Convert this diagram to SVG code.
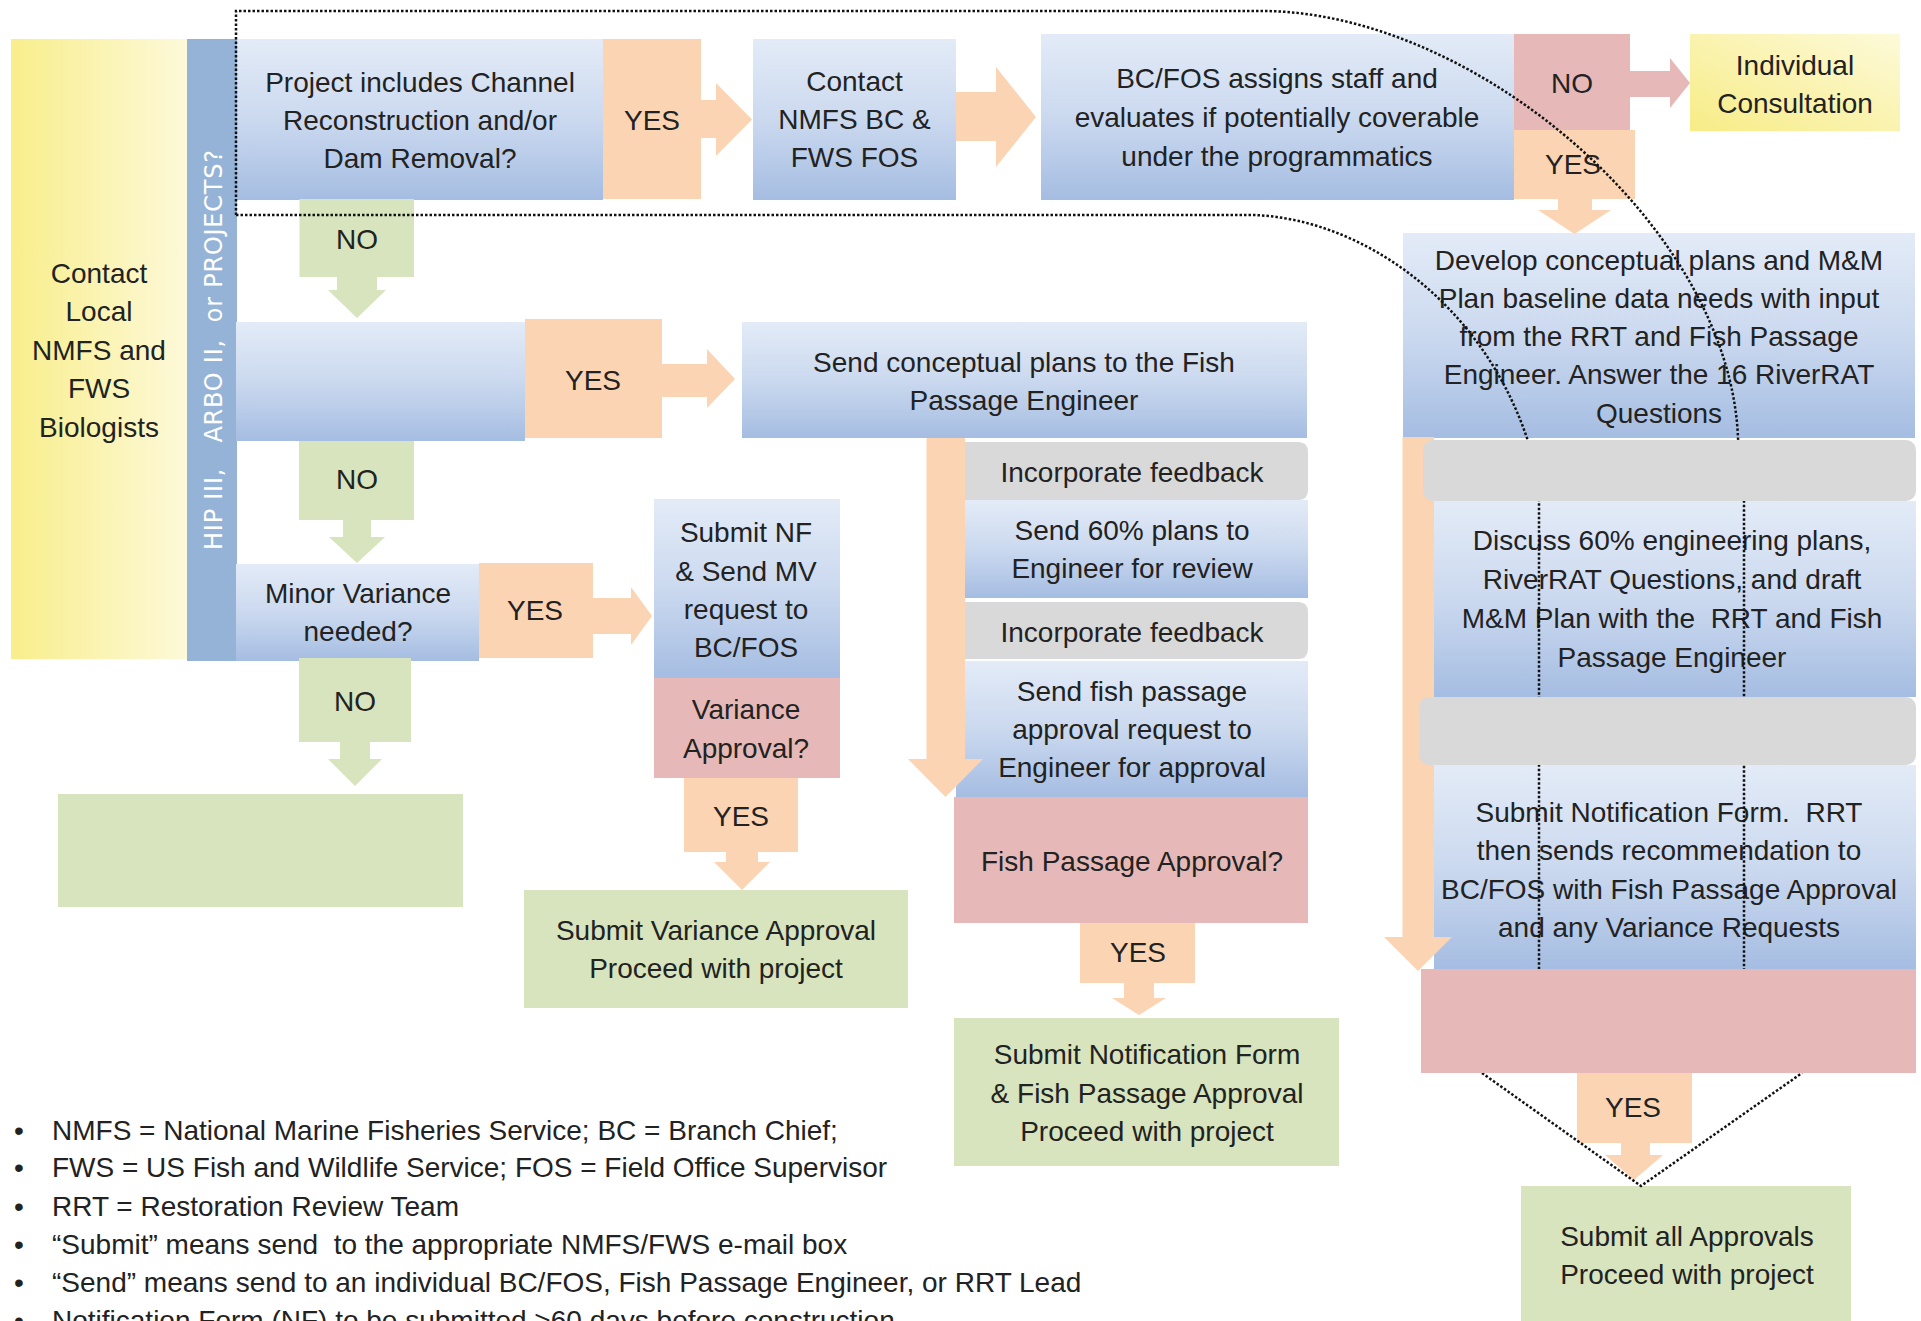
<svg xmlns="http://www.w3.org/2000/svg" width="1921" height="1321" viewBox="0 0 1921 1321">
<defs>
<linearGradient id="gBlue" x1="0" y1="0" x2="0" y2="1">
<stop offset="0" stop-color="#e3ebf7"/><stop offset="0.5" stop-color="#cbd9ef"/><stop offset="1" stop-color="#a5bde2"/>
</linearGradient>
<linearGradient id="gYellow" x1="0" y1="0" x2="1" y2="0">
<stop offset="0" stop-color="#f8ee8c"/><stop offset="1" stop-color="#fdf9d9"/>
</linearGradient>
<linearGradient id="gYellow2" x1="0" y1="1" x2="1" y2="0">
<stop offset="0" stop-color="#f7ec86"/><stop offset="1" stop-color="#fdfad9"/>
</linearGradient>
<style>
.blue{fill:url(#gBlue)}
.org{fill:#fbd4b4}
.grn{fill:#d7e4bd}
.red{fill:#e6b9b8}
.gry{fill:#d9d9d9}
.t{font-family:"Liberation Sans",Arial,sans-serif;font-size:28px;fill:#222;text-anchor:middle;dominant-baseline:central}
.lg{font-family:"Liberation Sans",Arial,sans-serif;font-size:28px;fill:#222}
.bar{font-family:"DejaVu Sans",Verdana,sans-serif;font-size:24px;fill:#fff;text-anchor:middle}
.dot{fill:none;stroke:#111;stroke-width:2.5;stroke-dasharray:2.5 2}
</style>
</defs>
<rect width="1921" height="1321" fill="#fff"/>

<g id="contact-local"><rect x="11" y="39" width="176" height="620" fill="url(#gYellow)"/>
<text class="t"><tspan x="99" y="273">Contact</tspan><tspan x="99" y="311">Local</tspan><tspan x="99" y="350">NMFS and</tspan><tspan x="99" y="388">FWS</tspan><tspan x="99" y="427">Biologists</tspan></text></g>
<g id="bar"><rect x="187" y="39" width="50" height="622" fill="#95b3d7"/>
<text class="bar" xml:space="preserve" transform="translate(222,350) rotate(-90)" textLength="400" lengthAdjust="spacing">HIP III,   ARBO II,  or PROJECTS?</text></g>

<g id="q-channel"><rect class="blue" x="237" y="39" width="366" height="161"/>
<text class="t"><tspan x="420" y="82">Project includes Channel</tspan><tspan x="420" y="120">Reconstruction and/or</tspan><tspan x="420" y="158">Dam Removal?</tspan></text></g>
<g id="yes1"><rect class="org" x="603" y="39" width="98" height="160"/><text class="t" x="652" y="120">YES</text></g>
<g id="contact-bc"><rect class="blue" x="753" y="39" width="203" height="161"/>
<text class="t"><tspan x="854.5" y="81">Contact</tspan><tspan x="854.5" y="119">NMFS BC &amp;</tspan><tspan x="854.5" y="157">FWS FOS</tspan></text></g>
<g id="bcfos"><rect class="blue" x="1041" y="34" width="473" height="166"/>
<text class="t"><tspan x="1277" y="78">BC/FOS assigns staff and</tspan><tspan x="1277" y="117">evaluates if potentially coverable</tspan><tspan x="1277" y="156">under the programmatics</tspan></text></g>
<g id="no-top"><rect class="red" x="1514" y="34" width="116" height="96"/><text class="t" x="1572" y="83">NO</text></g>
<g id="individual"><rect x="1690" y="34" width="210" height="97" fill="url(#gYellow2)"/>
<text class="t"><tspan x="1795" y="65">Individual</tspan><tspan x="1795" y="103">Consultation</tspan></text></g>
<g id="yes2"><rect class="org" x="1514" y="130" width="121" height="69"/><text class="t" x="1573" y="164">YES</text></g>
<g id="develop"><rect class="blue" x="1403" y="233" width="512" height="205"/>
<text class="t"><tspan x="1659" y="260">Develop conceptual plans and M&amp;M</tspan><tspan x="1659" y="298">Plan baseline data needs with input</tspan><tspan x="1659" y="336">from the RRT and Fish Passage</tspan><tspan x="1659" y="374">Engineer. Answer the 16 RiverRAT</tspan><tspan x="1659" y="413">Questions</tspan></text></g>
<g id="no1"><rect class="grn" x="299.5" y="199" width="114.5" height="78"/><text class="t" x="357" y="239">NO</text></g>
<g id="blank-q"><rect class="blue" x="236" y="322" width="289" height="119"/></g>
<g id="yes3"><rect class="org" x="525" y="319" width="137" height="119"/><text class="t" x="593" y="380">YES</text></g>
<g id="send-concept"><rect class="blue" x="742" y="322" width="565" height="116"/>
<text class="t"><tspan x="1024" y="362">Send conceptual plans to the Fish</tspan><tspan x="1024" y="400">Passage Engineer</tspan></text></g>
<g id="no2"><rect class="grn" x="299" y="441" width="115" height="79"/><text class="t" x="357" y="479">NO</text></g>
<g id="minor"><rect class="blue" x="236" y="564" width="243" height="97"/>
<text class="t"><tspan x="358" y="593">Minor Variance</tspan><tspan x="358" y="631">needed?</tspan></text></g>
<g id="yes4"><rect class="org" x="479" y="563" width="114" height="95"/><text class="t" x="535" y="610">YES</text></g>
<g id="submit-nf-mv"><rect class="blue" x="654" y="499" width="186" height="179"/>
<text class="t"><tspan x="746" y="532">Submit NF</tspan><tspan x="746" y="571">&amp; Send MV</tspan><tspan x="746" y="609">request to</tspan><tspan x="746" y="647">BC/FOS</tspan></text></g>
<g id="variance-q"><rect class="red" x="654" y="678" width="186" height="100"/>
<text class="t"><tspan x="746" y="709">Variance</tspan><tspan x="746" y="748">Approval?</tspan></text></g>
<g id="no3"><rect class="grn" x="299" y="658" width="112" height="84"/><text class="t" x="355" y="701">NO</text></g>
<g id="blank-green"><rect class="grn" x="58" y="794" width="405" height="113"/></g>
<g id="yes5"><rect class="org" x="684" y="778" width="114" height="74"/><text class="t" x="741" y="816">YES</text></g>
<g id="submit-variance"><rect class="grn" x="524" y="890" width="384" height="118"/>
<text class="t"><tspan x="716" y="930">Submit Variance Approval</tspan><tspan x="716" y="968">Proceed with project</tspan></text></g>
<g id="send-60"><rect class="blue" x="965" y="500" width="343" height="98"/>
<text class="t"><tspan x="1132" y="530">Send 60% plans to</tspan><tspan x="1132" y="568">Engineer for review</tspan></text></g>
<g id="send-fish"><rect class="blue" x="956" y="661" width="352" height="136"/>
<text class="t"><tspan x="1132" y="691">Send fish passage</tspan><tspan x="1132" y="729">approval request to</tspan><tspan x="1132" y="767">Engineer for approval</tspan></text></g>
<g id="fish-q"><rect class="red" x="954" y="797" width="354" height="126"/><text class="t" x="1132" y="861">Fish Passage Approval?</text></g>
<g id="yes6"><rect class="org" x="1080" y="923" width="115" height="60"/><text class="t" x="1138" y="952">YES</text></g>
<g id="submit-fish"><rect class="grn" x="954" y="1018" width="385" height="148"/>
<text class="t"><tspan x="1147" y="1054">Submit Notification Form</tspan><tspan x="1147" y="1093">&amp; Fish Passage Approval</tspan><tspan x="1147" y="1131">Proceed with project</tspan></text></g>
<g id="discuss"><rect class="blue" x="1434" y="501" width="482" height="196"/>
<text class="t" xml:space="preserve"><tspan x="1672" y="540">Discuss 60% engineering plans,</tspan><tspan x="1672" y="579">RiverRAT Questions, and draft</tspan><tspan x="1672" y="618">M&amp;M Plan with the  RRT and Fish</tspan><tspan x="1672" y="657">Passage Engineer</tspan></text></g>
<g id="submit-nf-rrt"><rect class="blue" x="1434" y="765" width="482" height="205"/>
<text class="t" xml:space="preserve"><tspan x="1669" y="812">Submit Notification Form.  RRT</tspan><tspan x="1669" y="850">then sends recommendation to</tspan><tspan x="1669" y="889">BC/FOS with Fish Passage Approval</tspan><tspan x="1669" y="927">and any Variance Requests</tspan></text></g>
<g id="yes7"><rect class="org" x="1577" y="1073" width="115" height="70"/><text class="t" x="1633" y="1107">YES</text></g>
<g id="submit-all"><rect class="grn" x="1521" y="1186" width="330" height="135"/>
<text class="t"><tspan x="1687" y="1236">Submit all Approvals</tspan><tspan x="1687" y="1274">Proceed with project</tspan></text></g>

<g id="connectors">
<polygon class="org" points="701,100 716,100 716,83 752,119.5 716,156 716,138 701,138"/>
<polygon class="org" points="956,92 996,92 996,67 1036,117 996,167 996,141 956,141"/>
<polygon class="red" points="1630,71 1670,71 1670,58 1690,83 1670,108 1670,97 1630,97"/>
<polygon class="org" points="1558,199 1592,199 1592,210 1611,210 1574.5,234 1538,210 1558,210"/>
<polygon class="grn" points="337,277 377,277 377,290 386,290 357,318 328,290 337,290"/>
<polygon class="org" points="662,364 707,364 707,349 735,379 707,408 707,397 662,397"/>
<polygon class="grn" points="343,520 371,520 371,537 385,537 357,563 329,537 343,537"/>
<polygon class="org" points="593,598 631,598 631,587 652,616 631,645 631,634 593,634"/>
<polygon class="grn" points="340,742 370,742 370,759 382,759 355,786 328,759 340,759"/>
<polygon class="org" points="726,852 758,852 758,862 770,862 742,890 714,862 726,862"/>
<polygon class="org" points="926.5,438 965,438 965,759 983,759 945.5,797 908,759 926.5,759"/>
<polygon class="org" points="1124,983 1154,983 1154,998 1166,998 1139,1015 1112,998 1124,998"/>
<polygon class="org" points="1402.5,437 1434,437 1434,937 1452,937 1418,971 1384,937 1402.5,937"/>
<polygon class="org" points="1621,1143 1650,1143 1650,1155 1663,1155 1634,1180 1605,1155 1621,1155"/>
<path class="dot" d="M236,215 L236,11 L1267,11 C1480,15 1730,230 1738,438 L1744,501 L1744,969"/>
<path class="dot" d="M236,215 L1252,215 C1360,218 1480,300 1527,438 L1539,501 L1539,969"/>
<path class="dot" d="M1482,1073 L1641,1186 L1802,1073"/>
</g>

<g id="feedback1"><path class="gry" d="M965,442 H1298 Q1308,442 1308,452 V490 Q1308,500 1298,500 H965 Z"/><text class="t" x="1132" y="472">Incorporate feedback</text></g>
<g id="feedback2"><path class="gry" d="M965,602 H1298 Q1308,602 1308,612 V649 Q1308,659 1298,659 H965 Z"/><text class="t" x="1132" y="632">Incorporate feedback</text></g>
<g id="gray-r1"><rect class="gry" x="1423" y="440" width="493" height="61" rx="10"/></g>
<g id="gray-r2"><rect class="gry" x="1419" y="697" width="497" height="68" rx="10"/></g>
<g id="red-r"><rect class="red" x="1421" y="969" width="495" height="104"/></g>

<g id="legend" class="lg">
<text x="14" y="1140">•</text><text x="52" y="1140">NMFS = National Marine Fisheries Service; BC = Branch Chief;</text>
<text x="14" y="1177">•</text><text x="52" y="1177">FWS = US Fish and Wildlife Service; FOS = Field Office Supervisor</text>
<text x="14" y="1216">•</text><text x="52" y="1216">RRT = Restoration Review Team</text>
<text x="14" y="1254">•</text><text x="52" y="1254" xml:space="preserve">“Submit” means send  to the appropriate NMFS/FWS e-mail box</text>
<text x="14" y="1292">•</text><text x="52" y="1292">“Send” means send to an individual BC/FOS, Fish Passage Engineer, or RRT Lead</text>
<text x="14" y="1330">•</text><text x="52" y="1330">Notification Form (NF) to be submitted &gt;60 days before construction</text>
</g>
</svg>
